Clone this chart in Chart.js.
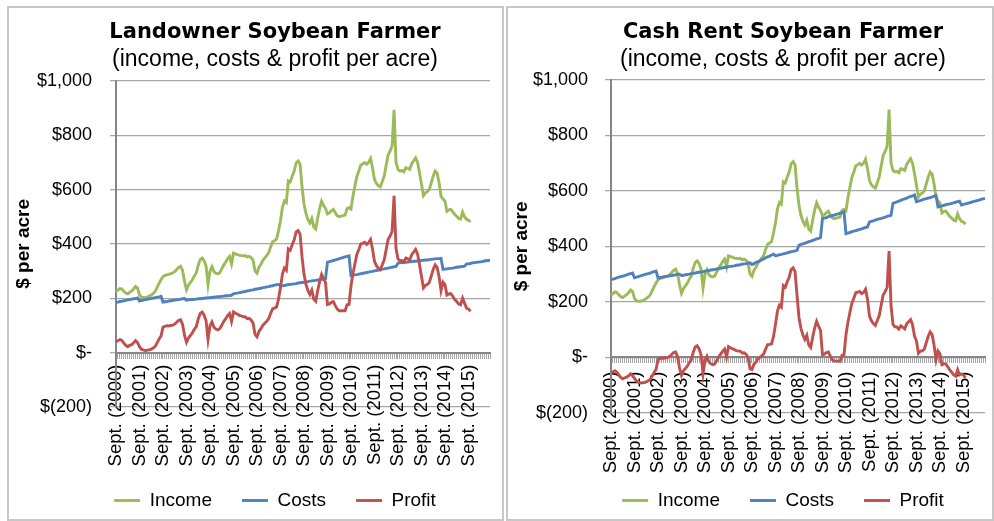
<!DOCTYPE html>
<html>
<head>
<meta charset="utf-8">
<title>Soybean Farmer income, costs & profit</title>
<script src="https://cdn.jsdelivr.net/npm/chart.js@4.4.1/dist/chart.umd.min.js"></script>
<style>
    html, body { margin: 0; padding: 0; background: #fff; width: 994px; height: 521px; overflow: hidden; }
    .frame { position: absolute; top: 6px; height: 515px; border: 2px solid #c8c8c8; box-sizing: border-box; }
    #frame-left { left: 7px; width: 497px; }
    #frame-right { left: 506px; width: 488px; }
    canvas { position: absolute; top: 7px; }
    #chart-left { left: 8px; }
    #chart-right { left: 507px; }
</style>
</head>
<body>
<div class="frame" id="frame-left"></div>
<div class="frame" id="frame-right"></div>
<canvas id="chart-left" width="534" height="513"></canvas>
<canvas id="chart-right" width="552" height="513"></canvas>
<script>
'use strict';

// --- DATA (monthly, Sept. 2000 -> Aug. 2016, one crop year per line) ---
const monthNames = ['Sept.', 'Oct.', 'Nov.', 'Dec.', 'Jan.', 'Feb.', 'Mar.', 'Apr.', 'May', 'June', 'July', 'Aug.'];
const cropYears = [2000, 2001, 2002, 2003, 2004, 2005, 2006, 2007, 2008, 2009, 2010, 2011, 2012, 2013, 2014, 2015];
const tickLabels = cropYears.map(y => `Sept. (${y})`);
const yTicks = [-200, 0, 200, 400, 600, 800, 1000];

// income is the same for both farmers
const income = [
    225, 230, 236, 234, 226, 219, 216, 222, 226, 234, 243, 238,
    212, 204, 203, 202, 205, 208, 212, 218, 225, 240, 255, 268,
    280, 284, 287, 288, 291, 293, 298, 306, 314, 318, 302, 262,
    231, 248, 258, 268, 282, 293, 322, 342, 348, 338, 318, 250,
    300, 316, 298, 292, 290, 294, 308, 322, 333, 345, 354, 326,
    366, 363, 361, 358, 357, 356, 357, 352, 354, 350, 340, 300,
    292, 314, 325, 340, 348, 358, 368, 390, 408, 412, 418, 448,
    485, 535, 558, 552, 632, 628, 650, 668, 698, 705, 693, 610,
    548, 512, 490, 477, 494, 462, 455, 495, 530, 557, 542, 530,
    510, 514, 522, 527, 514, 503, 500, 502, 504, 506, 530, 533,
    528, 575, 612, 648, 668, 690, 694, 699, 693, 700, 714, 680,
    637, 622, 614, 610, 630, 650, 690, 728, 742, 760, 893, 700,
    674, 668, 670, 665, 680, 678, 674, 695, 706, 716, 700, 662,
    620, 578, 588, 592, 600, 625, 650, 668, 660, 625, 575, 565,
    557, 520, 525, 527, 518, 508, 502, 494, 492, 517, 500, 490,
    488, 480
];

const costsLandowner = [
    185, 186, 188, 189, 191, 192, 194, 195, 197, 198, 199, 201,
    190, 192, 193, 195, 196, 198, 199, 201, 202, 204, 205, 207,
    186, 187, 188, 190, 191, 192, 193, 194, 195, 197, 198, 199,
    193, 194, 195, 195, 196, 197, 198, 198, 199, 200, 201, 202,
    202, 203, 204, 205, 206, 206, 207, 208, 209, 209, 210, 211,
    216, 218, 219, 221, 222, 224, 225, 227, 228, 230, 231, 233,
    234, 236, 237, 239, 240, 242, 243, 245, 246, 248, 250, 251,
    245, 246, 247, 249, 250, 251, 252, 253, 254, 256, 257, 258,
    259, 260, 261, 263, 264, 265, 266, 267, 269, 270, 271, 272,
    333, 335, 337, 339, 341, 343, 346, 348, 350, 352, 354, 356,
    283, 285, 286, 287, 289, 290, 292, 293, 295, 296, 298, 299,
    301, 302, 304, 305, 307, 308, 310, 311, 313, 314, 316, 317,
    329, 330, 331, 332, 332, 333, 334, 335, 336, 336, 337, 338,
    339, 340, 341, 341, 342, 343, 344, 345, 346, 346, 347, 306,
    307, 308, 309, 310, 311, 313, 314, 315, 316, 317, 318, 326,
    327, 328, 330, 331, 332, 333, 334, 335, 337, 338, 339, 340
];

const profitLandowner = [
    40, 44, 48, 45, 35, 27, 22, 27, 29, 36, 44, 37,
    22, 12, 10, 7, 9, 10, 13, 17, 23, 36, 50, 61,
    94, 97, 99, 98, 100, 101, 105, 112, 119, 121, 104, 63,
    38, 54, 63, 73, 86, 96, 124, 144, 149, 138, 117, 48,
    98, 113, 94, 87, 84, 88, 101, 114, 124, 136, 144, 115,
    150, 145, 142, 137, 135, 132, 132, 125, 126, 120, 109, 67,
    58, 78, 88, 101, 108, 116, 125, 145, 162, 164, 168, 197,
    240, 289, 311, 303, 382, 377, 398, 415, 444, 449, 436, 352,
    289, 252, 229, 214, 230, 197, 189, 228, 261, 287, 271, 258,
    177, 179, 185, 188, 173, 160, 154, 154, 154, 154, 176, 177,
    245, 290, 326, 361, 379, 400, 402, 406, 398, 404, 416, 381,
    336, 320, 310, 305, 323, 342, 380, 417, 429, 446, 577, 383,
    345, 338, 339, 333, 348, 345, 340, 360, 370, 380, 363, 324,
    281, 238, 247, 251, 258, 282, 306, 323, 314, 279, 228, 259,
    250, 212, 216, 217, 207, 195, 188, 179, 176, 200, 182, 164,
    161, 152
];

const costsCashRent = [
    280, 282, 284, 287, 289, 291, 293, 295, 297, 300, 302, 304,
    287, 289, 291, 294, 296, 298, 300, 302, 304, 307, 309, 311,
    287, 288, 289, 291, 292, 293, 294, 295, 296, 298, 299, 300,
    295, 296, 298, 299, 300, 302, 303, 304, 306, 307, 308, 309,
    311, 312, 313, 315, 316, 317, 319, 320, 321, 323, 324, 325,
    327, 328, 329, 330, 332, 333, 334, 336, 337, 338, 340, 341,
    335, 338, 342, 345, 348, 352, 355, 359, 362, 365, 369, 372,
    366, 368, 370, 371, 373, 375, 377, 379, 381, 382, 384, 386,
    404, 407, 409, 412, 414, 417, 419, 422, 424, 427, 429, 432,
    500, 502, 504, 507, 509, 511, 513, 515, 517, 520, 522, 524,
    446, 448, 450, 453, 455, 457, 459, 461, 463, 466, 468, 470,
    488, 490, 492, 495, 497, 499, 501, 503, 505, 508, 510, 512,
    555, 558, 560, 563, 566, 569, 571, 574, 577, 580, 582, 585,
    561, 563, 565, 568, 570, 572, 574, 576, 578, 581, 583, 542,
    544, 546, 548, 550, 552, 553, 555, 557, 559, 561, 563, 549,
    551, 553, 555, 557, 559, 561, 563, 565, 567, 569, 571, 573
];

const profitCashRent = [
    -55, -52, -48, -53, -63, -72, -77, -73, -71, -66, -59, -66,
    -75, -85, -88, -92, -91, -90, -88, -84, -79, -67, -54, -43,
    -7, -4, -2, -3, -1, 0, 4, 11, 18, 20, 3, -38,
    -64, -48, -40, -31, -18, -9, 19, 38, 42, 31, 10, -59,
    -11, 4, -15, -23, -26, -23, -11, 2, 12, 22, 30, 1,
    39, 35, 32, 28, 25, 23, 23, 16, 17, 12, 0, -41,
    -43, -24, -17, -5, 0, 6, 13, 31, 46, 47, 49, 76,
    119, 167, 188, 181, 259, 253, 273, 289, 317, 323, 309, 224,
    144, 105, 81, 65, 80, 45, 36, 73, 106, 130, 113, 98,
    10, 12, 18, 20, 5, -8, -13, -13, -13, -14, 8, 9,
    82, 127, 162, 195, 213, 233, 235, 238, 230, 234, 246, 210,
    149, 132, 122, 115, 133, 151, 189, 225, 237, 252, 383, 188,
    119, 110, 110, 102, 114, 109, 103, 121, 129, 136, 118, 77,
    59, 15, 23, 24, 30, 53, 76, 92, 82, 44, -8, 23,
    13, -26, -23, -23, -34, -45, -53, -63, -67, -44, -63, -59,
    -63, -73
];

const categories = cropYears.flatMap(y => monthNames.map(m => `${m} (${y})`));

// --- STYLE ---
const GREEN = '#9bbb59';
const BLUE = '#4f81bd';
const RED = '#c0504d';
const SANS = "'Liberation Sans', Arial, sans-serif";
const HEAVY = "'DejaVu Sans', 'Liberation Sans', sans-serif";
const GRID = '#a6a6a6';
const AXIS = '#868686';
const LINE_W = 2.9;

Chart.defaults.color = '#000';
Chart.defaults.font.family = SANS;

const formatDollars = v => {
    if (v === 0) return '$-';
    if (v < 0) return `$(${Math.abs(v).toLocaleString('en-US')})`;
    return '$' + v.toLocaleString('en-US');
};

function createPanel(canvasId, titleText, costs, profit, fit) {
    const ctx = document.getElementById(canvasId);
    return new Chart(ctx, {
        type: 'line',
        data: {
            labels: categories,
            datasets: [
                { label: 'Income', data: income, borderColor: GREEN, backgroundColor: GREEN, xAxisID: 'x', yAxisID: 'y', order: 2 },
                { label: 'Costs', data: costs, borderColor: BLUE, backgroundColor: BLUE, xAxisID: 'x', yAxisID: 'y', order: 1 },
                { label: 'Profit', data: profit, borderColor: RED, backgroundColor: RED, xAxisID: 'x', yAxisID: 'y', order: 0 }
            ]
        },
        options: {
            responsive: false,
            animation: false,
            devicePixelRatio: 1,
            layout: { padding: 0 },
            elements: {
                // points are hidden; their border width is what the legend line uses
                point: { radius: 0, borderWidth: LINE_W },
                line: { borderWidth: LINE_W, tension: 0 }
            },
            plugins: {
                title: {
                    display: true,
                    text: titleText,
                    color: '#000',
                    font: { family: HEAVY, size: 21, weight: 'bold', lineHeight: 1.2 },
                    padding: { top: 13, bottom: 1 }
                },
                subtitle: {
                    display: true,
                    text: '(income, costs & profit per acre)',
                    color: '#000',
                    font: { family: SANS, size: 23, lineHeight: 1.2 },
                    padding: { top: 0, bottom: fit.subtitleGap }
                },
                legend: {
                    position: 'bottom',
                    labels: {
                        usePointStyle: true,
                        pointStyle: 'line',
                        pointStyleWidth: 26,
                        padding: 30,
                        color: '#000',
                        font: { family: SANS, size: 19 },
                        sort: (a, b) => a.datasetIndex - b.datasetIndex
                    }
                },
                tooltip: { enabled: false }
            },
            scales: {
                x: {
                    type: 'category',
                    position: { y: 0 },
                    ticks: {
                        autoSkip: false,
                        minRotation: 90,
                        maxRotation: 90,
                        padding: fit.xTickPad,
                        color: '#000',
                        font: { family: SANS, size: 18.5 },
                        callback: (v, i) => tickLabels.includes(categories[i]) ? categories[i] : ''
                    },
                    grid: { drawOnChartArea: false, drawTicks: true, tickLength: 5, color: GRID, lineWidth: 1 },
                    border: { display: true, color: AXIS, width: 2 },
                    afterFit: scale => { scale.height = 0; }
                },
                y: {
                    type: 'linear',
                    position: 'left',
                    min: yTicks[0],
                    max: yTicks[yTicks.length - 1],
                    afterBuildTicks: scale => { scale.ticks = yTicks.map(v => ({ value: v })); },
                    afterFit: scale => { scale.width = fit.yAxisWidth; },
                    ticks: {
                        padding: fit.yTickPad,
                        color: '#000',
                        font: { family: SANS, size: 18 },
                        callback: v => formatDollars(v)
                    },
                    grid: { color: GRID, lineWidth: 1.25, tickLength: 6 },
                    border: { display: true, color: AXIS, width: 2 },
                    title: {
                        display: true,
                        text: '$ per acre',
                        color: '#000',
                        font: { family: SANS, size: 19, weight: 'bold', lineHeight: 1.2 },
                        padding: fit.yTitlePad
                    }
                },
                // empty room between the plot and the legend / right frame, as in the original
                gapBottom: {
                    type: 'category',
                    position: 'bottom',
                    display: true,
                    grid: { display: false },
                    border: { display: false },
                    ticks: { display: false },
                    afterFit: scale => { scale.height = fit.gapBottom; }
                },
                gapRight: {
                    type: 'linear',
                    position: 'right',
                    display: true,
                    grid: { display: false },
                    border: { display: false },
                    ticks: { display: false },
                    afterFit: scale => { scale.width = fit.gapRight; }
                }
            }
        }
    });
}

createPanel('chart-left', 'Landowner Soybean Farmer', costsLandowner, profitLandowner, {
    subtitleGap: 7, xTickPad: 7, yTickPad: 18, yTitlePad: { top: 4.5, bottom: 0 },
    yAxisWidth: 108, gapBottom: 54, gapRight: 52
});
createPanel('chart-right', 'Cash Rent Soybean Farmer', costsCashRent, profitCashRent, {
    subtitleGap: 6, xTickPad: 9, yTickPad: 17, yTitlePad: { top: 3.6, bottom: 0 },
    yAxisWidth: 104, gapBottom: 48, gapRight: 74
});
</script>
</body>
</html>
